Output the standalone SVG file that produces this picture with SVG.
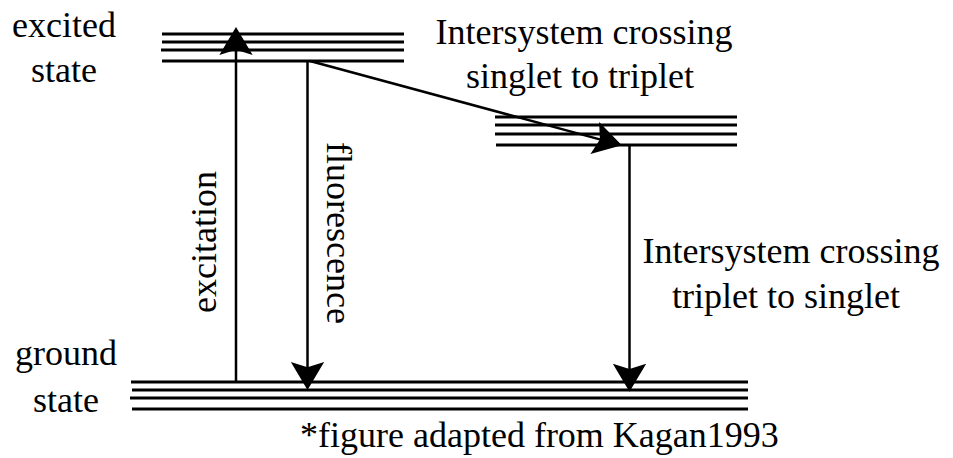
<svg xmlns="http://www.w3.org/2000/svg" width="953" height="458" viewBox="0 0 953 458">
  <style>
    .level { stroke: #000; stroke-width: 3; fill: none; }
    .conn { stroke: #000; stroke-width: 2.5; fill: none; }
    .lbl { font-family: 'Liberation Serif', 'DejaVu Serif', serif; font-size: 36px; fill: #000; }
  </style>
  <defs>
    <!-- arrowhead whose tip sits 15px beyond the line end -->
    <marker id="head" markerUnits="userSpaceOnUse" markerWidth="40" markerHeight="40" viewBox="-10 -15 30 30" refX="0" refY="0" orient="auto">
      <path d="M15,0 L-6,-12.5 L-2,0 L-6,12.5 Z" fill="#000"/>
    </marker>
  </defs>
  <rect width="953" height="458" fill="#fff"/>

  <!-- excited singlet state -->
  <g id="excited">
    <line class="level" x1="162" y1="34" x2="404" y2="34"/>
    <line class="level" x1="162" y1="42" x2="404" y2="42"/>
    <line class="level" x1="161" y1="50" x2="404" y2="50"/>
    <line class="level" x1="162" y1="61" x2="404" y2="61"/>
    <text class="lbl" x="64" y="37" text-anchor="middle">excited</text>
    <text class="lbl" x="64" y="82" text-anchor="middle">state</text>
  </g>

  <!-- triplet state -->
  <g id="triplet">
    <line class="level" x1="495" y1="117" x2="737" y2="117"/>
    <line class="level" x1="495" y1="125" x2="737" y2="125"/>
    <line class="level" x1="495" y1="134" x2="737" y2="134"/>
    <line class="level" x1="496" y1="145" x2="737" y2="145"/>
  </g>

  <!-- ground state -->
  <g id="ground">
    <line class="level" x1="131" y1="382" x2="748" y2="382"/>
    <line class="level" x1="132" y1="390" x2="748" y2="390"/>
    <line class="level" x1="130" y1="398" x2="748" y2="398"/>
    <line class="level" x1="132" y1="409" x2="748" y2="409"/>
    <text class="lbl" x="66" y="365" text-anchor="middle">ground</text>
    <text class="lbl" x="66" y="412" text-anchor="middle">state</text>
  </g>

  <!-- transitions -->
  <g id="connectors">
    <line class="conn" x1="236" y1="382" x2="236" y2="47" marker-end="url(#head)"/>
    <line class="conn" x1="307.5" y1="61" x2="307.5" y2="370" marker-end="url(#head)"/>
    <line class="conn" x1="310" y1="61" x2="602.5" y2="140.1" marker-end="url(#head)"/>
    <line class="conn" x1="629.5" y1="145" x2="629.5" y2="371.7" marker-end="url(#head)"/>
  </g>

  <!-- transition labels -->
  <g id="labels">
    <text class="lbl" transform="translate(216,313) rotate(-90)">excitation</text>
    <text class="lbl" transform="translate(327,142) rotate(90)">fluorescence</text>
    <text class="lbl" x="584" y="44" text-anchor="middle">Intersystem crossing</text>
    <text class="lbl" x="580" y="88" text-anchor="middle">singlet to triplet</text>
    <text class="lbl" x="791" y="263" text-anchor="middle">Intersystem crossing</text>
    <text class="lbl" x="786" y="308" text-anchor="middle">triplet to singlet</text>
    <text class="lbl" x="300" y="447" font-size="33.5">*figure adapted from Kagan1993</text>
  </g>
</svg>
